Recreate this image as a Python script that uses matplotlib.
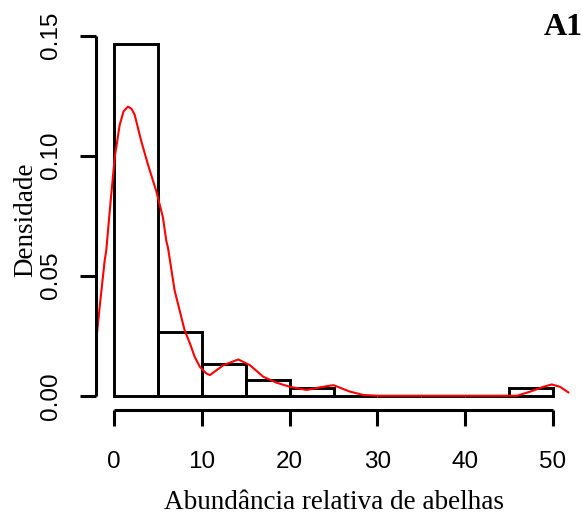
import numpy as np
import matplotlib
matplotlib.use("Agg")
import matplotlib.pyplot as plt

# histogram: bin edges and counts (n = 60, density = count / (n * width))
breaks = [0, 5, 10, 15, 20, 25, 30, 35, 40, 45, 50]
counts = [44, 8, 4, 2, 1, 0, 0, 0, 0, 1]

# kernel density curve
dens_x = [-2.13, -1.63, -1.06, -0.88, -0.38, 0.08, 0.65, 1.1, 1.59, 2.0, 2.36,
          3.11, 3.87, 4.82, 5.58, 5.96, 6.15, 6.91, 8.05, 8.66, 9.19, 9.79,
          10.5, 10.93, 12.45, 14.16, 15.49, 17.0, 18.53, 20.05, 21.95, 23.46,
          24.98, 26.88, 28.4, 30.0, 45.9, 47.4, 48.9, 49.85, 50.8, 51.74]
dens_y = [0.0189, 0.0369, 0.0562, 0.0604, 0.081, 0.099, 0.1128, 0.1185, 0.1204,
          0.1195, 0.117, 0.106, 0.0963, 0.0852, 0.0742, 0.0645, 0.0617, 0.0438,
          0.0272, 0.0217, 0.0162, 0.012, 0.0093, 0.0086, 0.0127, 0.0151, 0.0127,
          0.0079, 0.0054, 0.0037, 0.0024, 0.0035, 0.0044, 0.0017, 0.0003, 0.0,
          0.0, 0.0017, 0.0037, 0.0047, 0.0037, 0.0014]

yticks = [0.00, 0.05, 0.10, 0.15]
xticks = [0, 10, 20, 30, 40, 50]

n = sum(counts)
width = np.diff(breaks)
heights = np.array(counts) / (n * width)

W, H = 583, 515
fig = plt.figure(figsize=(W / 100, H / 100), dpi=100)
# plot region in pixels (R-style margins)
left, right, top, bottom = 96.4, 570.6, 29.5, 409.8
ax = fig.add_axes([left / W, 1 - bottom / H, (right - left) / W, (bottom - top) / H])

ax.bar(breaks[:-1], heights, width=width, align="edge", fill=False,
       edgecolor="black", linewidth=2.1)
ax.plot(dens_x, dens_y, color="red", linewidth=1.5)

ax.set_xlim(-2, 52)
ax.set_ylim(-heights.max() * 0.04, heights.max() * 1.04)

for s in ["top", "right"]:
    ax.spines[s].set_visible(False)
ax.spines["left"].set_bounds(0, 0.15)
ax.spines["bottom"].set_bounds(0, 50)
for s in ["left", "bottom"]:
    ax.spines[s].set_linewidth(2.2)
    ax.spines[s].set_capstyle("butt")

ax.set_xticks(xticks)
ax.set_yticks(yticks)
ax.set_yticklabels(["%.2f" % v for v in yticks], rotation=90, va="center")
ax.tick_params(length=11.5, width=2.2, labelsize=17.5,
               labelfontfamily="Liberation Sans")
ax.tick_params(axis="y", pad=13.5)
ax.tick_params(axis="x", pad=18)

# axis titles placed like R's mtext
fig.text((left + right) / 2 / W, 1 - 509 / H, "Abundância relativa de abelhas",
         family="Liberation Serif", fontsize=19.5, ha="center", va="baseline")
fig.text(26 / W, 1 - (top + bottom) / 2 / H, "Densidade", rotation=90,
         family="Liberation Serif", fontsize=19.5, ha="center", va="center")

fig.text(544 / W, 1 - 35 / H, "A1", family="Liberation Serif",
         fontweight="bold", fontsize=23, ha="left", va="baseline")

fig.savefig("out.png", dpi=100)
